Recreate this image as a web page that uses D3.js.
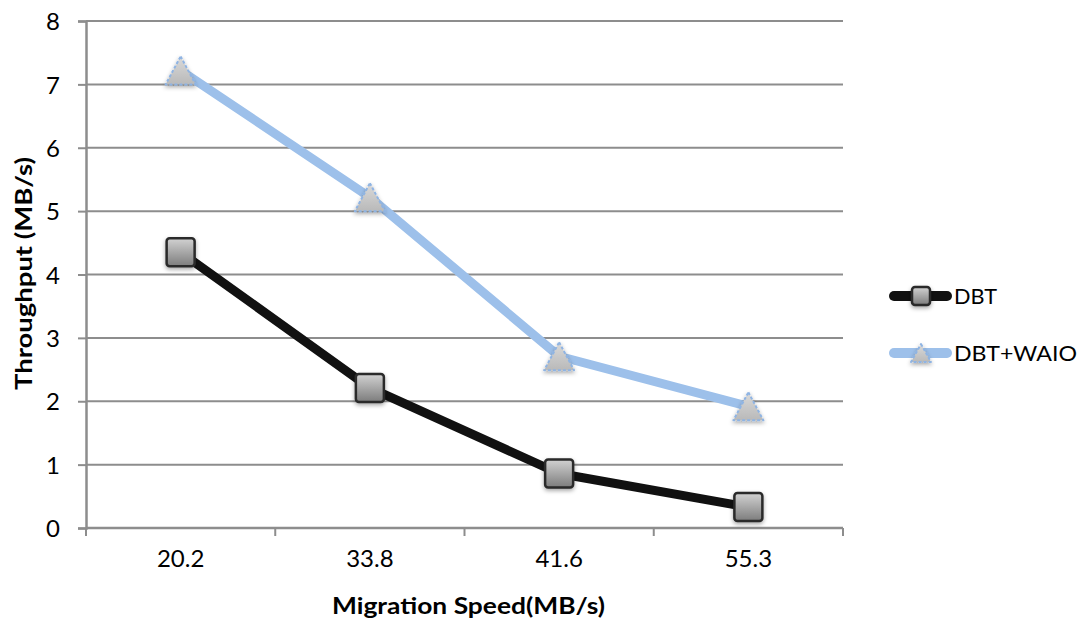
<!DOCTYPE html>
<html><head><meta charset="utf-8">
<script src="https://cdn.jsdelivr.net/npm/d3@7"></script>
<style>
html,body{margin:0;padding:0;background:#fff;}
svg{display:block;font-family:Lato,"Open Sans",sans-serif;}
</style></head>
<body>
<svg id="chart" width="1079" height="621"></svg>
<script>
const categories = ["20.2","33.8","41.6","55.3"];
const dbt = [4.35, 2.21, 0.86, 0.33];
const dbtWaio = [7.22, 5.22, 2.71, 1.92];
const yTicks = [0,1,2,3,4,5,6,7,8];
const seriesNames = ["DBT","DBT+WAIO"];
const xTitle = "Migration Speed(MB/s)";
const yTitle = "Throughput (MB/s)";

const svg = d3.select("#chart");
const L = 86, R = 843, T = 21, B = 528;
const x = d3.scaleBand().domain(categories).range([L, R]).padding(0);
const y = d3.scaleLinear().domain([0, 8]).range([B, T]);
const grid = "#8d8d8d";

const defs = svg.append("defs");
const g1 = defs.append("linearGradient").attr("id","sq").attr("x1","0").attr("y1","0").attr("x2","0").attr("y2","1");
g1.append("stop").attr("offset","0").attr("stop-color","#d2d2d2");
g1.append("stop").attr("offset","1").attr("stop-color","#7c7c7c");
const g2 = defs.append("linearGradient").attr("id","tri").attr("x1","0").attr("y1","0").attr("x2","0").attr("y2","1");
g2.append("stop").attr("offset","0").attr("stop-color","#dadada");
g2.append("stop").attr("offset","1").attr("stop-color","#b9b9b9");
const f = defs.append("filter").attr("id","sh").attr("x","-50%").attr("y","-50%").attr("width","200%").attr("height","200%");
f.append("feDropShadow").attr("dx",0).attr("dy",2).attr("stdDeviation",2).attr("flood-color","#000").attr("flood-opacity",0.35);

// gridlines
svg.append("g").selectAll("line").data(yTicks.filter(d=>d>0)).join("line")
  .attr("x1", L).attr("x2", R).attr("y1", d=>y(d)).attr("y2", d=>y(d))
  .attr("stroke", grid).attr("stroke-width", 2);

// y axis
const yAxis = svg.append("g").attr("transform",`translate(${L},0)`)
  .call(d3.axisLeft(y).tickValues(yTicks).tickSize(8).tickPadding(18).tickFormat(d3.format("d")));
yAxis.select(".domain").attr("stroke", grid).attr("stroke-width", 2.5);
yAxis.selectAll(".tick line").attr("stroke", grid).attr("stroke-width", 2);
yAxis.selectAll(".tick text").attr("fill","#000").attr("font-size",24).attr("font-family","Lato").attr("dy","0.36em");

// x axis
const xAxis = svg.append("g").attr("transform",`translate(0,${B})`)
  .call(d3.axisBottom(x).tickSize(0).tickPadding(22));
xAxis.select(".domain").attr("d", `M${L},0H${R}`).attr("stroke", grid).attr("stroke-width", 2.5);
xAxis.selectAll(".tick text").attr("fill","#000").attr("font-size",24).attr("font-family","Lato");
const edges = categories.map(c => x(c)).concat([x(categories[categories.length-1]) + x.bandwidth()]);
xAxis.append("g").selectAll("line").data(edges).join("line")
  .attr("x1", d=>d).attr("x2", d=>d).attr("y1", 0).attr("y2", 8)
  .attr("stroke", grid).attr("stroke-width", 2);

const cx = c => x(c) + x.bandwidth()/2;
const line = d3.line().x((d,i)=>cx(categories[i])).y(d=>y(d));

// lines
svg.append("path").datum(dbtWaio).attr("d", line).attr("fill","none")
  .attr("stroke","#9dc0ea").attr("stroke-width",9).attr("stroke-linejoin","round");
svg.append("path").datum(dbt).attr("d", line).attr("fill","none")
  .attr("stroke","#111").attr("stroke-width",9).attr("stroke-linejoin","round");

function square(sel, s){
  sel.append("rect").attr("x",-s/2).attr("y",-s/2).attr("width",s).attr("height",s).attr("rx",3)
    .attr("fill","url(#sq)").attr("stroke","#2a2a2a").attr("stroke-width",2.5).attr("filter","url(#sh)");
}
function triangle(sel, w, h){
  sel.append("path").attr("d",`M0,${-h/2} L${w/2},${h/2} L${-w/2},${h/2} Z`)
    .attr("fill","url(#tri)").attr("stroke","#8fb4e3").attr("stroke-width",2).attr("stroke-dasharray","3,2")
    .attr("stroke-linejoin","round").attr("filter","url(#sh)");
}

svg.append("g").selectAll("g").data(dbtWaio).join("g")
  .attr("transform",(d,i)=>`translate(${cx(categories[i])},${y(d)})`)
  .each(function(){ triangle(d3.select(this), 30, 28); });
svg.append("g").selectAll("g").data(dbt).join("g")
  .attr("transform",(d,i)=>`translate(${cx(categories[i])},${y(d)})`)
  .each(function(){ square(d3.select(this), 28); });

// titles
svg.append("text").attr("x", 468.5).attr("y", 614).attr("text-anchor","middle")
  .attr("font-weight","bold").attr("font-size",23).attr("font-family","Lato")
  .attr("textLength",273).attr("lengthAdjust","spacingAndGlyphs").text(xTitle);
svg.append("text").attr("transform","translate(32,273.5) rotate(-90)").attr("text-anchor","middle")
  .attr("font-weight","bold").attr("font-size",23.5).attr("font-family","Lato")
  .attr("textLength",233).attr("lengthAdjust","spacingAndGlyphs").text(yTitle);

// legend
const leg = svg.append("g");
const ly = [296, 353];
const lcol = ["#111","#9dc0ea"];
const lw = [43, 123];
seriesNames.forEach((n,i)=>{
  const g = leg.append("g").attr("transform",`translate(0,${ly[i]})`);
  g.append("line").attr("x1",894).attr("x2",947).attr("y1",0).attr("y2",0)
    .attr("stroke",lcol[i]).attr("stroke-width",10).attr("stroke-linecap","round");
  const m = g.append("g").attr("transform","translate(921,0)");
  if(i===0) square(m, 18); else triangle(m, 20, 18);
  g.append("text").attr("x",954).attr("y",0).attr("dy","0.36em").attr("font-size",22)
    .attr("font-family","Lato").attr("fill","#000")
    .attr("textLength",lw[i]).attr("lengthAdjust","spacingAndGlyphs").text(n);
});
</script>
</body></html>
